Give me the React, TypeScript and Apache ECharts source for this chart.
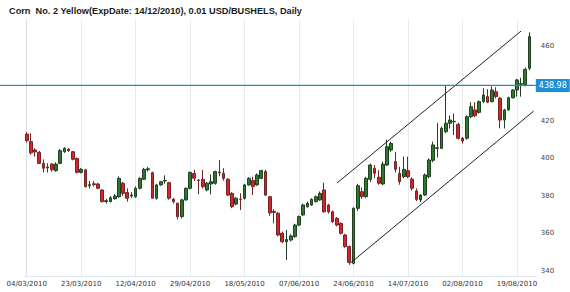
import React, { useEffect, useRef } from 'react';
import * as echarts from 'echarts';

// ---- data ----
const FIRST_DAY = '2010-03-04';
const HOLIDAYS = ['2010-04-02', '2010-05-31', '2010-07-05'];
const SLOT_COUNT = 122; // 121 sessions + one empty slot at the right edge

const open = [
  413, 409, 404.5, 403.3, 397.4, 395.5, 397, 393.5, 397.4, 403.6, 405, 403.6, 400, 392.6,
  393.9, 385.5, 386.5, 386.4, 383.2, 377, 377, 378.5, 379.6, 386.8, 381.8, 380,
  379.6, 384.1, 388.9, 394, 392.4, 378.8, 385.9, 388, 387.1, 378.2, 376.1, 369, 377.9,
  384.1, 392, 388.5, 388.9, 383.2, 386.4, 386.8, 392.8, 392.1, 388.9, 381.4, 375.7, 378.4,
  378.8, 385.9, 388.2, 385.9, 389.4, 393, 379.6, 371.8, 370.8, 360.1, 355.6, 356.5, 358.3,
  364.5, 369.9, 374.3, 375.2, 377, 377.9, 383.2, 375.2, 371.6, 368.1, 365.4, 359.2, 353,
  344.1, 373.4, 382.3, 379.6, 388.9, 394.8, 390, 386.4, 396.5, 404.5, 398.3, 392.1, 390.3,
  393.5, 389, 382.7, 377.9, 380.5, 390.3, 399, 405.4, 405.4, 414.3, 418.8, 419.6, 418.2,
  410.8, 410.8, 422.3, 425.9, 424.6, 430.3, 433, 430.3, 435.6, 432.1, 420.5, 425.9, 432.4,
  436.5, 439.6, 439.2, 448.1,
];
const close = [
  409.5, 403, 403.5, 397.4, 394.8, 395, 394, 397, 404.2, 405.4, 404.2, 399.6, 392.6, 394.2,
  385, 386, 386, 384.1, 377, 377.5, 379, 380, 389.4, 381.4, 378.8, 380.5,
  384.1, 389.4, 394.2, 394.5, 378.8, 385.9, 387.6, 388.3, 378.8, 377, 369, 377.9, 384.1,
  392.6, 389.5, 388.3, 385, 386.8, 387.6, 393, 392.4, 389.4, 380.5, 374.3, 378.8, 378.2,
  385.9, 389.4, 385, 391.2, 393.5, 380.5, 371, 371.2, 359.2, 355.6, 356.8, 358.7, 364.5,
  369, 375.2, 376.1, 378.2, 379.6, 381.4, 371.6, 371.6, 366.3, 364.5, 360.1, 353, 344.6,
  373.4, 385.5, 379.6, 389.4, 396.5, 392.1, 386.8, 397, 406.3, 408, 394.2, 387.6, 394.2,
  390.3, 384.1, 378.2, 380.5, 391.2, 399.2, 407.2, 405.7, 416.1, 418.8, 420.5, 419.8, 410.8,
  409.3, 422.3, 427.6, 422.8, 430.3, 433.9, 430, 436.5, 433, 420.5, 425.9, 432.4, 436.5,
  441.9, 439.9, 447.5, 465,
];
const low = [
  408.5, 402, 401, 397, 392.5, 392.5, 393, 393, 397, 403, 403.5, 399, 392, 392,
  384.5, 384, 385, 383.5, 376.5, 376, 376.5, 378, 379, 380, 377, 379,
  379, 383.5, 388.5, 393, 378.5, 378, 385.5, 386.5, 378, 376, 367.5, 368, 377.5,
  383.5, 388, 381, 384, 382.5, 380.8, 386, 390.5, 388.2, 380, 373.5, 375, 372.5,
  378, 385.5, 380.5, 385.5, 389, 380, 369.5, 365.4, 358.5, 354.8, 345.9, 355.8, 357.8,
  364, 369.4, 373.8, 374.8, 376.5, 377.4, 371, 370.6, 365.6, 363.8, 359.4, 352.4, 343.3,
  343.5, 372, 378.5, 379, 387.5, 389.5, 386, 385.8, 396, 403.5, 392.5, 386, 389.5,
  389.5, 383, 377.3, 376.8, 380, 389.5, 398, 400.5, 405, 413.5, 416, 412.5, 410,
  408, 410, 421.5, 422, 424, 429.5, 429.5, 430, 432, 416.1, 416, 425.5, 432,
  433, 433, 438.5, 447,
];
const high = [
  414, 413.4, 405.5, 404, 399.5, 397.5, 397.5, 398, 405, 406, 405.5, 404, 400.5, 395,
  394.5, 388, 388, 387, 383.5, 378.5, 380, 381, 390.5, 387.5, 384, 382,
  385, 390, 395, 395.5, 393, 386.5, 388, 391, 387.5, 379, 376.5, 378.5, 384.5,
  393, 394, 389, 393.9, 387.5, 391.5, 393.5, 399.2, 394.8, 389.5, 382, 379.5, 381.4,
  386.5, 390, 390.3, 392, 394, 394, 380, 373, 371.5, 361, 361.9, 359.6, 365.2,
  369.6, 375.8, 377, 378.8, 380.2, 382.4, 387.1, 375.8, 372.2, 368.8, 366, 359.8, 353.6,
  374, 386.5, 384.5, 390.2, 397.3, 396.5, 393.8, 398.4, 410, 409, 403.5, 395.5, 401,
  401, 390, 384, 381, 392, 400, 409, 418.8, 417, 439.2, 423, 424, 419,
  411.5, 423, 430, 430, 431, 437.5, 437, 438.5, 438, 432.8, 426.5, 433, 437,
  442.5, 443, 448.5, 467.3,
];

const lastPrice = 438.98;
const upperChannel = [[74.06, 386.9], [118.0, 468.0]];
const lowerChannel = [[77.3, 344.3], [121.0, 425.3]];
const yLabelValues = [340, 360, 380, 400, 420, 460];
const titleText = 'Corn  No. 2 Yellow(ExpDate: 14/12/2010), 0.01 USD/BUSHELS, Daily';

function tradingDays(first: string, count: number, holidays: string[]): string[] {
  const out: string[] = [];
  const d = new Date(first + 'T00:00:00Z');
  while (out.length < count) {
    const iso = d.toISOString().slice(0, 10);
    const wd = d.getUTCDay();
    if (wd !== 0 && wd !== 6 && holidays.indexOf(iso) < 0) {
      out.push(iso.slice(8, 10) + '/' + iso.slice(5, 7) + '/' + iso.slice(0, 4));
    }
    d.setUTCDate(d.getUTCDate() + 1);
  }
  return out;
}

const dates = tradingDays(FIRST_DAY, SLOT_COUNT, HOLIDAYS);
const LEVEL_COLOR = '#1b8bd2';

export default function App() {
  const ref = useRef<HTMLDivElement>(null);
  useEffect(() => {
    if (!ref.current) return;
    const chart = echarts.init(ref.current, null, { renderer: 'svg' });
    const candles = open.map((o, i) => [o, close[i], low[i], high[i]]);
    const font = 'DejaVu Sans, Verdana, sans-serif';
    chart.setOption({
      animation: false,
      backgroundColor: '#ffffff',
      title: {
        text: titleText,
        left: 4,
        top: 1,
        textStyle: { fontSize: 9.2, fontWeight: 'bold', fontFamily: 'Liberation Sans, Arial, sans-serif', color: '#1a1a1a' },
      },
      grid: { left: 24.6, right: 34.2, top: 19.75, bottom: 15.4, containLabel: false },
      xAxis: [
        {
          type: 'category',
          data: dates,
          boundaryGap: true,
          axisLine: { show: true, lineStyle: { color: '#dfe8ef' } },
          axisTick: { show: false },
          axisLabel: { interval: 12, fontSize: 7, color: '#333', fontFamily: font, margin: 4 },
          splitLine: { show: true, interval: 12, alignWithLabel: true, lineStyle: { color: '#e2ebf2', width: 1 } },
        },
        { type: 'value', min: -0.5, max: SLOT_COUNT - 0.5, show: false },
      ],
      yAxis: {
        type: 'value',
        position: 'right',
        min: 337,
        max: 474,
        scale: true,
        axisLine: { show: true, lineStyle: { color: '#d5e0ea' } },
        axisTick: { show: false },
        splitLine: { show: false },
        axisLabel: { customValues: yLabelValues, fontSize: 7, color: '#444', fontFamily: font, margin: 5 },
      },
      series: [
        {
          type: 'candlestick',
          data: candles,
          barWidth: 3.2,
          itemStyle: {
            color: '#2c782c',
            color0: '#d4232a',
            borderColor: '#233f23',
            borderColor0: '#732424',
            borderWidth: 1,
          },
        },
        {
          type: 'line',
          xAxisIndex: 1,
          data: upperChannel,
          symbol: 'none',
          lineStyle: { color: '#222', width: 1 },
          silent: true,
        },
        {
          type: 'line',
          xAxisIndex: 1,
          data: lowerChannel,
          symbol: 'none',
          lineStyle: { color: '#222', width: 1 },
          silent: true,
        },
        {
          type: 'line',
          xAxisIndex: 1,
          data: [[-0.5, lastPrice], [SLOT_COUNT - 0.5, lastPrice]],
          symbol: 'none',
          lineStyle: { color: LEVEL_COLOR, width: 1.2 },
          silent: true,
          endLabel: {
            show: true,
            formatter: () => lastPrice.toFixed(2),
            backgroundColor: '#1b8fd8',
            color: '#ffffff',
            fontSize: 8,
            fontFamily: font,
            padding: [3, 3, 2, 3],
            distance: 0,
          },
        },
      ],
    });
    // extend the level line to the left edge of the page, through the chart's own scales
    const yPix = chart.convertToPixel({ yAxisIndex: 0 }, lastPrice) as number;
    const xStart = chart.convertToPixel({ xAxisIndex: 1 }, -0.5) as number;
    chart.setOption({
      graphic: [
        {
          type: 'line',
          silent: true,
          shape: { x1: 0, y1: yPix, x2: xStart, y2: yPix },
          style: { stroke: LEVEL_COLOR, lineWidth: 1.2 },
        },
      ],
    });
    return () => chart.dispose();
  }, []);
  return <div ref={ref} style={{ position: 'fixed', left: 0, top: 0, width: 570, height: 292 }} />;
}
